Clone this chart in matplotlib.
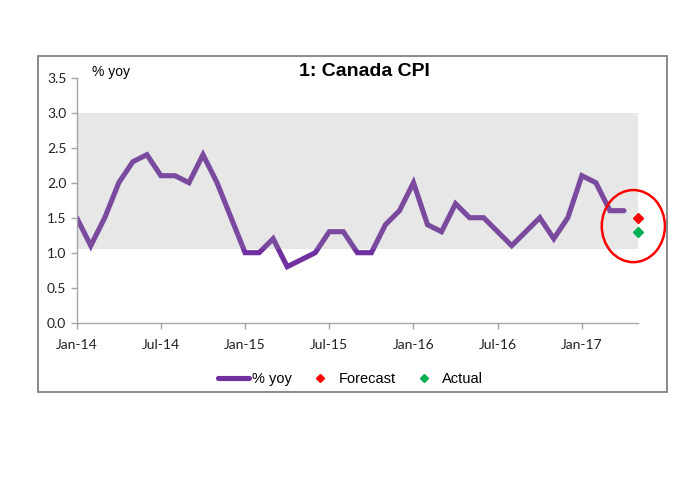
import matplotlib.pyplot as plt
from matplotlib.patches import Ellipse, Rectangle
from matplotlib.lines import Line2D

# Canada CPI, % yoy, monthly from Jan-14 to Apr-17
cpi_yoy = [1.5, 1.1, 1.5, 2.0, 2.3, 2.4, 2.1, 2.1, 2.0, 2.4, 2.0, 1.5,
           1.0, 1.0, 1.2, 0.8, 0.9, 1.0, 1.3, 1.3, 1.0, 1.0, 1.4, 1.6,
           2.0, 1.4, 1.3, 1.7, 1.5, 1.5, 1.3, 1.1, 1.3, 1.5, 1.2, 1.5,
           2.1, 2.0, 1.6, 1.6]
months = list(range(len(cpi_yoy)))

# May-17 forecast vs actual
point_month = 40
forecast = 1.5
actual = 1.3

tick_months = [0, 6, 12, 18, 24, 30, 36]
tick_labels = ["Jan-14", "Jul-14", "Jan-15", "Jul-15", "Jan-16", "Jul-16", "Jan-17"]

# target band
band_low, band_high = 1.05, 3.0

purple = "#7030A0"
axis_grey = "#A6A6A6"

fig = plt.figure(figsize=(7, 5), dpi=100)
fig.patches.append(Rectangle((0.0543, 0.216), 0.8986, 0.6726, transform=fig.transFigure,
                             fill=False, edgecolor="#808080", linewidth=1.3))

ax = fig.add_axes([0.1096, 0.3546, 0.8018, 0.49])
ax.plot(months, cpi_yoy, color=purple, linewidth=3.7, solid_capstyle="round",
        solid_joinstyle="miter", zorder=2)
ax.axhspan(band_low, band_high, color="#9E9E9E", alpha=0.24, linewidth=0, zorder=3)
ax.plot([point_month], [forecast], marker="D", color="#FF0000", markersize=5.5,
        linestyle="none", zorder=5, clip_on=False)
ax.plot([point_month], [actual], marker="D", color="#00B050", markersize=5.5,
        linestyle="none", zorder=5, clip_on=False)
ax.add_patch(Ellipse((39.67, 1.38), 4.5, 1.03, fill=False, edgecolor="#FF0000",
                     linewidth=1.8, clip_on=False, zorder=6))

ax.set_xlim(0, 40)
ax.set_ylim(0, 3.5)
ax.set_xticks(tick_months)
ax.set_xticklabels(tick_labels)
ax.set_yticks([0, 0.5, 1.0, 1.5, 2.0, 2.5, 3.0, 3.5])
ax.set_yticklabels([f"{v:.1f}" for v in ax.get_yticks()])
for s in ["top", "right"]:
    ax.spines[s].set_visible(False)
for s in ["left", "bottom"]:
    ax.spines[s].set_color(axis_grey)
    ax.spines[s].set_linewidth(1.0)
ax.tick_params(axis="both", colors=axis_grey, length=4, width=1.0, labelcolor="#222222",
               labelsize=10)
ax.tick_params(axis="x", pad=8)
for lab in ax.get_xticklabels() + ax.get_yticklabels():
    lab.set_family("Lato")

fig.text(0.521, 0.858, "1: Canada CPI", ha="center", va="center", fontsize=14,
         fontweight="bold", family="Liberation Sans")
fig.text(0.131, 0.856, "% yoy", ha="left", va="center", fontsize=10,
         family="Liberation Sans")

handles = [
    Line2D([], [], color=purple, linewidth=3.7, solid_capstyle="round"),
    Line2D([], [], color="#FF0000", marker="D", markersize=4.5, linestyle="none"),
    Line2D([], [], color="#00B050", marker="D", markersize=4.5, linestyle="none"),
]
fig.legend(handles, ["% yoy", "Forecast", "Actual"], loc="center",
           bbox_to_anchor=(0.501, 0.242), ncol=3, frameon=False, handlelength=2.1,
           handletextpad=0.2, columnspacing=0.9,
           prop={"family": "Liberation Sans", "size": 10.5})

fig.savefig("out.png", dpi=100)
